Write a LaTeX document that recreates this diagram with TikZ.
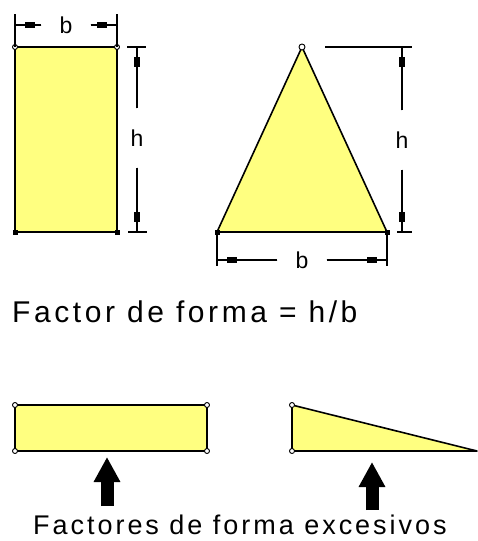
\documentclass[tikz,border=0pt]{standalone}
\usepackage{fontspec}
\setmainfont{Liberation Sans}
\usetikzlibrary{arrows.meta}
\definecolor{shapefill}{RGB}{255,255,128}

\begin{document}
\begin{tikzpicture}[
    x=1pt, y=-1pt,
    outline/.style={draw, line width=1.6pt, fill=shapefill, line join=round},
    extline/.style={draw, line width=1.3pt},
    dimline/.style={draw, line width=1.3pt, postaction={draw, -{Rectangle[length=10pt,width=5.5pt]}, shorten >=10pt}},
    dimtext/.style={inner xsep=18pt, inner ysep=21pt, font=\fontsize{23}{23}\selectfont},
    caption/.style={anchor=base west, inner sep=0pt, text depth=0pt},
    opencorner/.style={circle, draw, fill=white, inner sep=0pt, minimum size=5pt, line width=0.9pt},
    solidcorner/.style={rectangle, fill=black, inner sep=0pt, minimum size=5pt},
    bigarrow/.style={line width=13pt, -{Triangle[length=25pt,width=25pt]}}
]
    \useasboundingbox (0,0) rectangle (477,541);

    % tall rectangle
    \coordinate (rA) at (15,47);
    \coordinate (rB) at (117,47);
    \coordinate (rC) at (117,232);
    \coordinate (rD) at (15,232);
    \draw [outline] (rA) rectangle (rC);
    \node (rAm) [opencorner] at (rA) {};
    \node (rBm) [opencorner] at (rB) {};
    \node (rCm) [solidcorner] at (rC) {};
    \node (rDm) [solidcorner] at (rD) {};

    \draw [extline] (rA) -- (15,14);
    \draw [extline] (rB) -- (117,14);
    \coordinate (rbL) at (15,25);
    \coordinate (rbR) at (117,25);
    \node (rb) [dimtext] at (66,25) {b};
    \draw [dimline] (rb) -- (rbL);
    \draw [dimline] (rb) -- (rbR);

    \draw [extline] (127,47) -- (146,47);
    \draw [extline] (128,232) -- (147,232);
    \coordinate (rhT) at (137,47);
    \coordinate (rhB) at (137,232);
    \node (rh) [dimtext] at (137,138) {h};
    \draw [dimline] (rh) -- (rhT);
    \draw [dimline] (rh) -- (rhB);

    % triangle
    \coordinate (tA) at (302,47);
    \coordinate (tB) at (387,232);
    \coordinate (tC) at (217,232);
    \draw [outline] (tA) -- (tB) -- (tC) -- cycle;
    \node (tAm) [opencorner, minimum size=6pt] at (tA) {};
    \node (tBm) [solidcorner] at (tB) {};
    \node (tCm) [solidcorner] at (tC) {};

    \draw [extline] (325,47) -- (412,47);
    \draw [extline] (397,232) -- (412,232);
    \coordinate (thT) at (402,47);
    \coordinate (thB) at (402,232);
    \node (th) [dimtext] at (402,140) {h};
    \draw [dimline] (th) -- (thT);
    \draw [dimline] (th) -- (thB);

    \draw [extline] (tC) -- (217,266);
    \draw [extline] (tB) -- (387,266);
    \coordinate (tbL) at (217,260);
    \coordinate (tbR) at (387,260);
    \node (tb) [dimtext] at (302,260) {b};
    \draw [dimline] (tb) -- (tbL);
    \draw [dimline] (tb) -- (tbR);

    \node (factor) [caption, font={\fontsize{30}{30}\selectfont\addfontfeatures{LetterSpace=12}}] at (12,322) {Factor de forma = h/b};

    % flat shapes
    \coordinate (fA) at (15,405);
    \coordinate (fB) at (207,405);
    \coordinate (fC) at (207,451);
    \coordinate (fD) at (15,451);
    \draw [outline] (fA) rectangle (fC);
    \node (fAm) [opencorner] at (fA) {};
    \node (fBm) [opencorner] at (fB) {};
    \node (fCm) [opencorner] at (fC) {};
    \node (fDm) [opencorner] at (fD) {};

    \coordinate (sA) at (292,405);
    \coordinate (sB) at (477,451);
    \coordinate (sC) at (292,451);
    \draw [outline] (sA) -- (sB) -- (sC) -- cycle;
    \node (sAm) [opencorner] at (sA) {};
    \node (sCm) [opencorner] at (sC) {};

    \coordinate (a1s) at (107,506);
    \coordinate (a1t) at (107,457);
    \coordinate (a2s) at (372,510);
    \coordinate (a2t) at (372,462);
    \draw [bigarrow] (a1s) -- (a1t);
    \draw [bigarrow] (a2s) -- (a2t);

    \node (excess) [caption, font={\fontsize{27}{27}\selectfont\addfontfeatures{LetterSpace=11}}] at (33,534) {Factores de forma excesivos};
\end{tikzpicture}
\end{document}
